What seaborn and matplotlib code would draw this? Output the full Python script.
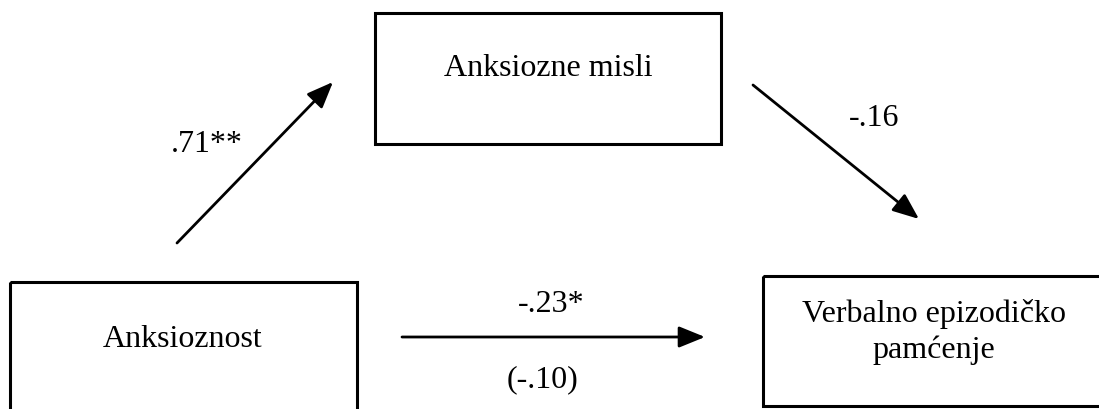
import matplotlib.pyplot as plt
import seaborn as sns
from matplotlib.patches import Rectangle

# nodes of the mediation model
node_names = ['Anksioznost', 'Anksiozne misli', 'Verbalno epizodičko\npamćenje']
# path coefficients: a, b, c (total), c' (direct)
path_a = '.71**'
path_b = '-.16'
path_c = '-.23*'
path_c_direct = '(-.10)'

sns.set_style('white')
plt.rcParams['font.family'] = ['Liberation Serif', 'DejaVu Serif']
plt.rcParams['text.color'] = 'black'

fig = plt.figure(figsize=(10.99, 4.10), dpi=100)
ax = fig.add_axes([0, 0, 1, 1])
ax.set_xlim(0, 1099)
ax.set_ylim(410, 0)
ax.axis('off')

# boxes (x, y, w, h) in pixel-like coordinates
boxes = [(10, 283, 347, 140), (375, 14, 346, 131), (763, 277, 350, 130)]
for (x, y, w, h), name in zip(boxes, node_names):
    ax.add_patch(Rectangle((x, y), w, h, fill=False, ec='black', lw=2.2))

fs = 23
ax.text(183, 340, node_names[0], ha='center', va='center', fontsize=fs)
ax.text(548, 68, node_names[1], ha='center', va='center', fontsize=fs)
ax.text(934, 332, node_names[2], ha='center', va='center', fontsize=fs,
        linespacing=1.3)

style = '-|>,head_length=1.6,head_width=0.65'
arrows = [((177, 244), (333, 83)), ((753, 86), (919, 220)), ((402, 338), (705, 338))]
for start, end in arrows:
    ax.annotate('', xy=end, xytext=start,
                arrowprops=dict(arrowstyle=style, mutation_scale=10, color='black',
                                lw=2, shrinkA=0, shrinkB=0))

ax.text(207, 145, path_a, ha='center', va='center', fontsize=fs)
ax.text(874, 118, path_b, ha='center', va='center', fontsize=fs)
ax.text(551, 305, path_c, ha='center', va='center', fontsize=fs)
ax.text(542, 380, path_c_direct, ha='center', va='center', fontsize=fs)

fig.savefig('out.png', dpi=100, facecolor='white')
